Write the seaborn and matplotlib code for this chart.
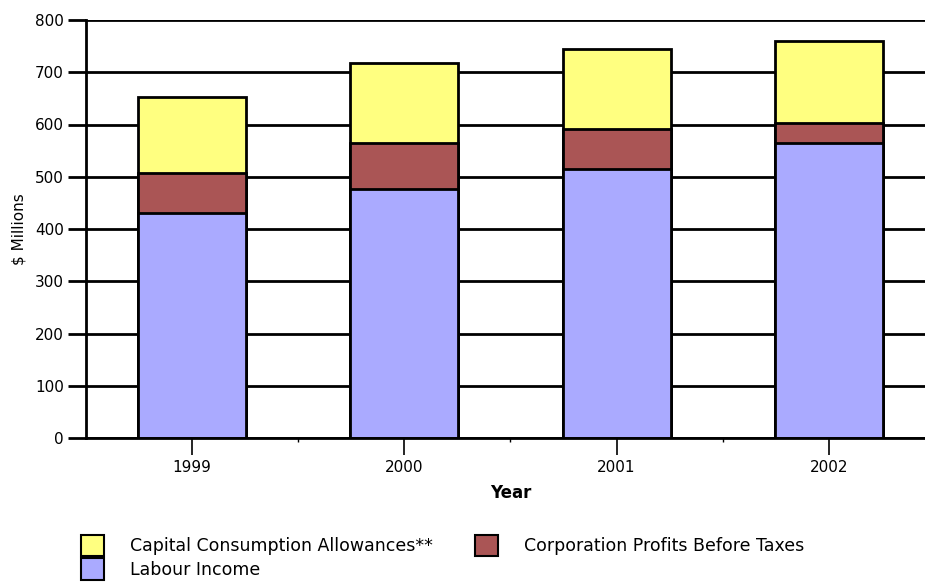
import pandas as pd
import seaborn as sns
import matplotlib.pyplot as plt
from matplotlib.patches import Patch
import numpy as np

years = ["1999", "2000", "2001", "2002"]
labour_income = [431, 477, 515, 564]
corp_profits = [76, 87, 76, 38]
capital_allow = [146, 154, 153, 157]

df = pd.DataFrame({"Year": years, "Labour": labour_income,
                   "Profits": corp_profits, "CCA": capital_allow})
df["LabourProfits"] = df["Labour"] + df["Profits"]
df["Total"] = df["LabourProfits"] + df["CCA"]

col_cca = "#FFFF80"
col_prof = "#AA5555"
col_lab = "#AAAAFF"

sns.set_style("white")
plt.rcParams["font.family"] = ["DejaVu Sans"]
plt.rcParams["text.color"] = "black"
plt.rcParams["axes.labelcolor"] = "black"
plt.rcParams["xtick.color"] = "black"
plt.rcParams["ytick.color"] = "black"

fig = plt.figure(figsize=(9.25, 5.84), dpi=100)
ax = fig.add_axes([86 / 925, 146 / 584, 849 / 925, 418 / 584])

ax.yaxis.grid(True, color="black", linewidth=2)
ax.set_axisbelow(True)

for col, c in [("Total", col_cca), ("LabourProfits", col_prof), ("Labour", col_lab)]:
    sns.barplot(data=df, x="Year", y=col, color=c, width=0.51,
                edgecolor="black", linewidth=2, ax=ax, saturation=1)

ax.set_xlim(-0.5, 3.5)
ax.set_ylim(0, 800)
ax.set_yticks(np.arange(0, 801, 100))
ax.set_xticks([0.5, 1.5, 2.5], minor=True)
ax.tick_params(axis="y", direction="out", length=13, width=2, left=True,
               labelsize=11, pad=3)
ax.tick_params(axis="x", which="major", direction="out", length=12, width=1.2,
               bottom=True, labelsize=11, pad=4)
ax.tick_params(axis="x", which="minor", direction="out", length=3, width=1,
               bottom=True)

for s in ["top", "right"]:
    ax.spines[s].set_visible(False)
for s in ["left", "bottom"]:
    ax.spines[s].set_color("black")
    ax.spines[s].set_linewidth(2)

ax.set_xlabel("Year", fontsize=12, fontweight="bold", labelpad=6)
ax.set_ylabel("$ Millions", fontsize=11, labelpad=6)

handles = [Patch(facecolor=col_cca, edgecolor="black", linewidth=1.5),
           Patch(facecolor=col_lab, edgecolor="black", linewidth=1.5),
           Patch(facecolor=col_prof, edgecolor="black", linewidth=1.5)]
labels = ["Capital Consumption Allowances**", "Labour Income",
          "Corporation Profits Before Taxes"]
fig.legend(handles, labels, ncol=2, loc="upper left",
           bbox_to_anchor=(72 / 925, 1 - 526 / 584), frameon=False,
           fontsize=12.5, handlelength=1.35, handleheight=1.5,
           handletextpad=1.5, columnspacing=2.4, labelspacing=0.15,
           borderpad=0)

fig.savefig("out.png", dpi=100)
